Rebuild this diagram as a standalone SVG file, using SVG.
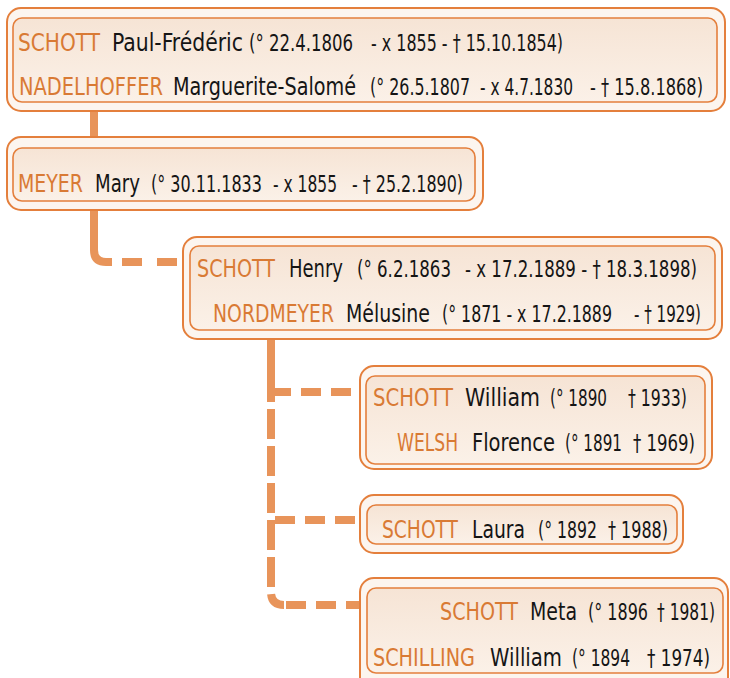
<svg xmlns="http://www.w3.org/2000/svg" width="730" height="678" viewBox="0 0 730 678">
<defs>
<linearGradient id="ig" x1="0" y1="0" x2="0" y2="1">
<stop offset="0" stop-color="#F6E4D5"/>
<stop offset="1" stop-color="#FBF1E8"/>
</linearGradient>
<style>
.outer{fill:#FCF5EF;stroke:#E47F3C;stroke-width:2}
.inner{fill:url(#ig);stroke:#E47F3C;stroke-width:1.6}
text{font-family:"DejaVu Sans Condensed","DejaVu Sans","Liberation Sans",sans-serif}
.sn{fill:#D97A34;font-size:24px}
.gn{fill:#151515;font-size:24px}
.dt{fill:#151515;font-size:23px}
.con{fill:none;stroke:#E8945A;stroke-width:8}
.dash{fill:none;stroke:#E8945A;stroke-width:8;stroke-dasharray:20 10}
</style>
</defs>
<rect width="730" height="678" fill="#FFFFFF"/>

<g id="connectors">
<line class="con" x1="94" y1="110" x2="94" y2="138"/>
<path class="con" d="M94,209 V250 Q94,262 106,262 H112"/>
<path class="con" d="M122,262 H183" style="stroke-dasharray:20 15"/>
<path class="con" d="M271,338 V372"/>
<path class="con" d="M271,372 V592 Q271,605 284,605" style="stroke-dasharray:30 7"/>
<path class="dash" d="M271,392 H360"/>
<path class="dash" d="M275,520 H360"/>
<path class="dash" d="M286,605 H362"/>
</g>

<g id="node-schott-paul">
<rect class="outer" x="7" y="8" width="718" height="103" rx="14"/>
<rect class="inner" x="13" y="18" width="704" height="84" rx="9"/>
<text y="51"><tspan class="sn" x="18" textLength="82" lengthAdjust="spacingAndGlyphs">SCHOTT</tspan><tspan class="gn" x="112" textLength="131" lengthAdjust="spacingAndGlyphs">Paul-Frédéric</tspan><tspan class="dt" x="249" textLength="104" lengthAdjust="spacingAndGlyphs">(° 22.4.1806</tspan><tspan class="dt" x="371" textLength="192" lengthAdjust="spacingAndGlyphs">- x 1855 - † 15.10.1854)</tspan></text>
<text y="95"><tspan class="sn" x="19" textLength="144" lengthAdjust="spacingAndGlyphs">NADELHOFFER</tspan><tspan class="gn" x="173" textLength="183" lengthAdjust="spacingAndGlyphs">Marguerite-Salomé</tspan><tspan class="dt" x="370" textLength="100" lengthAdjust="spacingAndGlyphs">(° 26.5.1807</tspan><tspan class="dt" x="480" textLength="93" lengthAdjust="spacingAndGlyphs">- x 4.7.1830</tspan><tspan class="dt" x="590" textLength="113" lengthAdjust="spacingAndGlyphs">- † 15.8.1868)</tspan></text>
</g>

<g id="node-meyer-mary">
<rect class="outer" x="7" y="137" width="476" height="73" rx="14"/>
<rect class="inner" x="13" y="148" width="462" height="53" rx="9"/>
<text y="192"><tspan class="sn" x="18" textLength="65" lengthAdjust="spacingAndGlyphs">MEYER</tspan><tspan class="gn" x="95" textLength="45" lengthAdjust="spacingAndGlyphs">Mary</tspan><tspan class="dt" x="151" textLength="111" lengthAdjust="spacingAndGlyphs">(° 30.11.1833</tspan><tspan class="dt" x="273" textLength="64" lengthAdjust="spacingAndGlyphs">- x 1855</tspan><tspan class="dt" x="352" textLength="111" lengthAdjust="spacingAndGlyphs">- † 25.2.1890)</tspan></text>
</g>

<g id="node-schott-henry">
<rect class="outer" x="183" y="237" width="539" height="102" rx="14"/>
<rect class="inner" x="190" y="246" width="525" height="84" rx="9"/>
<text y="277"><tspan class="sn" x="197" textLength="78" lengthAdjust="spacingAndGlyphs">SCHOTT</tspan><tspan class="gn" x="289" textLength="54" lengthAdjust="spacingAndGlyphs">Henry</tspan><tspan class="dt" x="357" textLength="94" lengthAdjust="spacingAndGlyphs">(° 6.2.1863</tspan><tspan class="dt" x="465" textLength="232" lengthAdjust="spacingAndGlyphs">- x 17.2.1889 - † 18.3.1898)</tspan></text>
<text y="322"><tspan class="sn" x="213" textLength="121" lengthAdjust="spacingAndGlyphs">NORDMEYER</tspan><tspan class="gn" x="346" textLength="84" lengthAdjust="spacingAndGlyphs">Mélusine</tspan><tspan class="dt" x="442" textLength="170" lengthAdjust="spacingAndGlyphs">(° 1871 - x 17.2.1889</tspan><tspan class="dt" x="634" textLength="67" lengthAdjust="spacingAndGlyphs">- † 1929)</tspan></text>
</g>

<g id="node-schott-william">
<rect class="outer" x="360" y="366" width="352" height="103" rx="14"/>
<rect class="inner" x="366" y="376" width="339" height="88" rx="9"/>
<text y="406"><tspan class="sn" x="373" textLength="80" lengthAdjust="spacingAndGlyphs">SCHOTT</tspan><tspan class="gn" x="465" textLength="75" lengthAdjust="spacingAndGlyphs">William</tspan><tspan class="dt" x="550" textLength="57" lengthAdjust="spacingAndGlyphs">(° 1890</tspan><tspan class="dt" x="628" textLength="59" lengthAdjust="spacingAndGlyphs">† 1933)</tspan></text>
<text y="451"><tspan class="sn" x="397" textLength="61" lengthAdjust="spacingAndGlyphs">WELSH</tspan><tspan class="gn" x="472" textLength="83" lengthAdjust="spacingAndGlyphs">Florence</tspan><tspan class="dt" x="565" textLength="57" lengthAdjust="spacingAndGlyphs">(° 1891</tspan><tspan class="dt" x="633" textLength="62" lengthAdjust="spacingAndGlyphs">† 1969)</tspan></text>
</g>

<g id="node-schott-laura">
<rect class="outer" x="360" y="495" width="323" height="58" rx="14"/>
<rect class="inner" x="367" y="505" width="310" height="39" rx="9"/>
<text y="538"><tspan class="sn" x="382" textLength="76" lengthAdjust="spacingAndGlyphs">SCHOTT</tspan><tspan class="gn" x="472" textLength="53" lengthAdjust="spacingAndGlyphs">Laura</tspan><tspan class="dt" x="538" textLength="59" lengthAdjust="spacingAndGlyphs">(° 1892</tspan><tspan class="dt" x="608" textLength="60" lengthAdjust="spacingAndGlyphs">† 1988)</tspan></text>
</g>

<g id="node-schott-meta">
<rect class="outer" x="360" y="578" width="368" height="115" rx="14"/>
<rect class="inner" x="367" y="588" width="356" height="85" rx="9"/>
<text y="620"><tspan class="sn" x="440" textLength="78" lengthAdjust="spacingAndGlyphs">SCHOTT</tspan><tspan class="gn" x="530" textLength="47" lengthAdjust="spacingAndGlyphs">Meta</tspan><tspan class="dt" x="588" textLength="60" lengthAdjust="spacingAndGlyphs">(° 1896</tspan><tspan class="dt" x="657" textLength="58" lengthAdjust="spacingAndGlyphs">† 1981)</tspan></text>
<text y="666"><tspan class="sn" x="373" textLength="102" lengthAdjust="spacingAndGlyphs">SCHILLING</tspan><tspan class="gn" x="490" textLength="72" lengthAdjust="spacingAndGlyphs">William</tspan><tspan class="dt" x="572" textLength="58" lengthAdjust="spacingAndGlyphs">(° 1894</tspan><tspan class="dt" x="647" textLength="63" lengthAdjust="spacingAndGlyphs">† 1974)</tspan></text>
</g>
</svg>
